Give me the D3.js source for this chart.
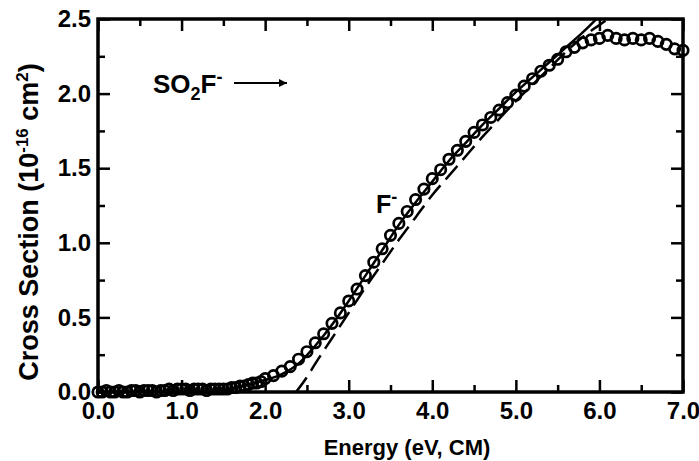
<!DOCTYPE html>
<html>
<head>
<meta charset="utf-8">
<script src="https://cdn.jsdelivr.net/npm/d3@7"></script>
<style>
  body { margin: 0; background: #fff; }
  text { font-family: "Liberation Sans", Arial, Helvetica, sans-serif; font-weight: bold; fill: #000; }
</style>
</head>
<body>
<div id="chart"></div>
<script>
// measured points (energy in eV CM, cross section in 1e-16 cm^2)
var energy = [0.00,0.05,0.10,0.15,0.20,0.25,0.30,0.35,0.40,0.45,0.50,0.55,0.60,0.65,0.70,0.75,0.80,0.85,0.90,0.95,
  1.00,1.05,1.10,1.15,1.20,1.25,1.30,1.35,1.40,1.45,1.50,1.55,1.60,1.65,1.70,1.75,1.80,1.85,1.90,1.95,
  2.0,2.1,2.2,2.3,2.4,2.5,2.6,2.7,2.8,2.9,3.0,3.1,3.2,3.3,3.4,3.5,3.6,3.7,3.8,3.9,
  4.0,4.1,4.2,4.3,4.4,4.5,4.6,4.7,4.8,4.9,5.0,5.1,5.2,5.3,5.4,5.5,5.6,5.7,5.8,5.9,
  6.0,6.1,6.2,6.3,6.4,6.5,6.6,6.7,6.8,6.9,7.0]
var crossSection = [0.00,0.00,0.01,0.00,0.00,0.01,0.00,0.00,0.01,0.01,0.00,0.01,0.01,0.01,0.00,0.01,0.01,0.02,0.01,0.02,
  0.02,0.02,0.01,0.02,0.02,0.02,0.01,0.02,0.02,0.02,0.02,0.02,0.03,0.03,0.04,0.04,0.05,0.06,0.06,0.07,
  0.09,0.11,0.14,0.17,0.22,0.27,0.33,0.39,0.46,0.53,0.61,0.69,0.78,0.87,0.96,1.05,1.13,1.21,1.29,1.36,
  1.43,1.49,1.56,1.62,1.68,1.74,1.79,1.84,1.89,1.94,1.99,2.05,2.10,2.15,2.19,2.23,2.28,2.31,2.34,2.36,
  2.37,2.39,2.37,2.36,2.37,2.36,2.37,2.35,2.33,2.30,2.29]

// convolved fit (solid)
var fitEnergy = [1.4,1.6,1.8,2.0,2.2,2.4,2.6,2.8,3.0,3.2,3.4,3.6,3.8,4.0,4.2,4.4,4.6,4.8,5.0,5.2,5.4,5.6,5.8,6.0]
var fitSigma  = [0.00,0.02,0.05,0.08,0.12,0.19,0.31,0.45,0.61,0.78,0.95,1.12,1.27,1.41,1.55,1.67,1.79,1.90,2.01,2.11,2.21,2.31,2.41,2.52]

// unconvolved model (dashed)
var bareEnergy = [2.37,2.5,2.6,2.8,3.0,3.2,3.4,3.6,3.8,4.0,4.2,4.4,4.6,4.8,5.0,5.2,5.4,5.6,5.8,6.0,6.15]
var bareSigma  = [0.00,0.10,0.19,0.36,0.53,0.70,0.86,1.02,1.17,1.32,1.45,1.58,1.71,1.83,1.95,2.06,2.17,2.28,2.38,2.46,2.52]

var xMajor = [0,1,2,3,4,5,6,7]
var xMinor = [0.5,1.5,2.5,3.5,4.5,5.5,6.5]
var yMajor = [0,0.5,1.0,1.5,2.0,2.5]
var yMinor = [0.25,0.75,1.25,1.75,2.25]

drawChart()
function drawChart() {
  var width = 699, height = 461
  var pl = 98, pr = 683, pt = 19, pb = 392

  var svg = d3.select("#chart").append("svg")
    .attr("width", width)
    .attr("height", height)
  svg.append("rect").attr("width", width).attr("height", height).attr("fill", "#fff")

  var x = d3.scaleLinear().domain([0, 7]).range([pl, pr])
  var y = d3.scaleLinear().domain([0, 2.5]).range([pb, pt])

  svg.append("clipPath").attr("id", "clip")
    .append("rect").attr("x", pl).attr("y", pt).attr("width", pr - pl).attr("height", pb - pt)

  // axes, ticks pointing inward on all four sides
  function styleAxis(g) {
    g.select(".domain").remove()
    g.selectAll(".tick line").attr("stroke", "#000").attr("stroke-width", 2.5)
    g.selectAll(".tick text").style("font-size", "24px").style("font-family", null)
  }
  var fmt = d3.format(".1f")

  svg.append("g").attr("transform", `translate(0,${pb})`)
    .call(d3.axisBottom(x).tickValues(xMajor).tickSizeInner(-12).tickSizeOuter(0).tickPadding(10).tickFormat(fmt))
    .call(styleAxis)
  svg.append("g").attr("transform", `translate(0,${pb})`)
    .call(d3.axisBottom(x).tickValues(xMinor).tickSizeInner(-7).tickSizeOuter(0).tickFormat(""))
    .call(styleAxis)
  svg.append("g").attr("transform", `translate(0,${pt})`)
    .call(d3.axisTop(x).tickValues(xMajor).tickSizeInner(-12).tickSizeOuter(0).tickFormat(""))
    .call(styleAxis)
  svg.append("g").attr("transform", `translate(0,${pt})`)
    .call(d3.axisTop(x).tickValues(xMinor).tickSizeInner(-7).tickSizeOuter(0).tickFormat(""))
    .call(styleAxis)
  svg.append("g").attr("transform", `translate(${pl},0)`)
    .call(d3.axisLeft(y).tickValues(yMajor).tickSizeInner(-12).tickSizeOuter(0).tickPadding(7).tickFormat(fmt))
    .call(styleAxis)
  svg.append("g").attr("transform", `translate(${pl},0)`)
    .call(d3.axisLeft(y).tickValues(yMinor).tickSizeInner(-7).tickSizeOuter(0).tickFormat(""))
    .call(styleAxis)
  svg.append("g").attr("transform", `translate(${pr},0)`)
    .call(d3.axisRight(y).tickValues(yMajor).tickSizeInner(-12).tickSizeOuter(0).tickFormat(""))
    .call(styleAxis)
  svg.append("g").attr("transform", `translate(${pr},0)`)
    .call(d3.axisRight(y).tickValues(yMinor).tickSizeInner(-7).tickSizeOuter(0).tickFormat(""))
    .call(styleAxis)

  svg.append("rect")
    .attr("x", pl).attr("y", pt)
    .attr("width", pr - pl).attr("height", pb - pt)
    .attr("fill", "none").attr("stroke", "#000").attr("stroke-width", 3.5)

  // model curves
  var line = d3.line().x(d => x(d[0])).y(d => y(d[1])).curve(d3.curveMonotoneX)
  var plot = svg.append("g").attr("clip-path", "url(#clip)")
  plot.append("path")
    .attr("d", line(fitEnergy.map((e, i) => [e, fitSigma[i]])))
    .attr("fill", "none").attr("stroke", "#000").attr("stroke-width", 2.5)
  plot.append("path")
    .attr("d", line(bareEnergy.map((e, i) => [e, bareSigma[i]])))
    .attr("fill", "none").attr("stroke", "#000").attr("stroke-width", 2.5)
    .attr("stroke-dasharray", "18,8")

  // data circles
  svg.append("g").selectAll("circle")
    .data(energy.map((e, i) => [e, crossSection[i]]))
    .enter().append("circle")
    .attr("cx", d => x(d[0]))
    .attr("cy", d => y(d[1]))
    .attr("r", 5.2)
    .attr("fill", "none")
    .attr("stroke", "#000")
    .attr("stroke-width", 2.7)

  // labels
  var yt = svg.append("text")
    .attr("transform", "translate(38,222) rotate(-90)")
    .attr("text-anchor", "middle")
    .style("font-size", "27px")
  yt.append("tspan").text("Cross Section (10")
  yt.append("tspan").attr("dy", -10).style("font-size", "17px").text("-16")
  yt.append("tspan").attr("dy", 10).text(" cm")
  yt.append("tspan").attr("dy", -10).style("font-size", "17px").text("2")
  yt.append("tspan").attr("dy", 10).text(")")

  svg.append("text")
    .attr("x", 407).attr("y", 455)
    .attr("text-anchor", "middle")
    .style("font-size", "22px")
    .text("Energy (eV, CM)")

  var so = svg.append("text").attr("x", 153).attr("y", 93).style("font-size", "26px")
  so.append("tspan").text("SO")
  so.append("tspan").attr("dy", 7).style("font-size", "18px").text("2")
  so.append("tspan").attr("dy", -7).text("F")
  so.append("tspan").attr("dy", -10).style("font-size", "18px").text("-")

  svg.append("defs").append("marker")
    .attr("id", "head").attr("viewBox", "0 0 10 10")
    .attr("refX", 10).attr("refY", 5)
    .attr("markerWidth", 15).attr("markerHeight", 8)
    .attr("markerUnits", "userSpaceOnUse")
    .attr("orient", "auto")
    .append("path").attr("d", "M0,0L10,5L0,10Z").attr("fill", "#000")
  svg.append("line")
    .attr("x1", 234).attr("y1", 83).attr("x2", 287).attr("y2", 83)
    .attr("stroke", "#000").attr("stroke-width", 2)
    .attr("marker-end", "url(#head)")

  var fl = svg.append("text").attr("x", 376).attr("y", 213).style("font-size", "25px")
  fl.append("tspan").text("F")
  fl.append("tspan").attr("dy", -10).style("font-size", "18px").text("-")
}
</script>
</body>
</html>
